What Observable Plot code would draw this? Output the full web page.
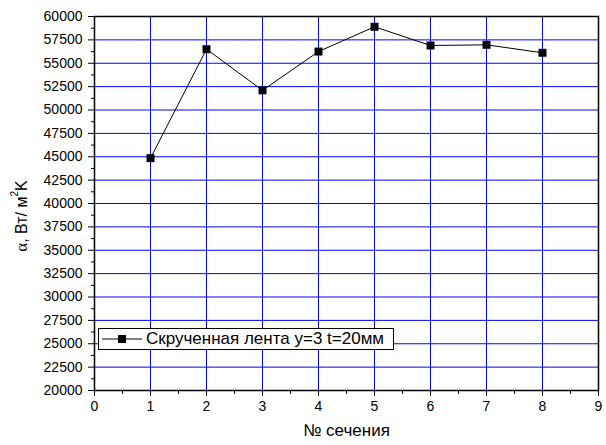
<!DOCTYPE html>
<html>
<head>
<meta charset="utf-8">
<script src="https://cdn.jsdelivr.net/npm/d3@7"></script>
<script src="https://cdn.jsdelivr.net/npm/@observablehq/plot@0.6"></script>
<style>
  html, body { margin: 0; padding: 0; background: #fff; }
  #wrap { position: relative; width: 606px; height: 445px; font-family: "Liberation Sans", Arial, sans-serif; }
  #legend { position: absolute; left: 98px; top: 328px; width: 296px; height: 22px; border: 1px solid #000; background: #fff;
    box-sizing: border-box; display: flex; align-items: center; font-size: 17px; color: #000; white-space: nowrap; }
  #legend svg { margin-left: 3px; margin-right: 4px; }
  #wrap svg text { font-family: "Liberation Sans", Arial, sans-serif; }
</style>
</head>
<body>
<div id="wrap"><div id="legend"><svg width="40" height="12"><line x1="0" y1="6" x2="40" y2="6" stroke="#000" stroke-width="1"/><rect x="16" y="2" width="8" height="8" fill="#000"/></svg><span>Скрученная лента y=3 t=20мм</span></div></div>
<script>
const sections = [1, 2, 3, 4, 5, 6, 7, 8];
const alpha = [44850, 56500, 52100, 56250, 58900, 56900, 56970, 56120];
const xTicks = [0, 1, 2, 3, 4, 5, 6, 7, 8, 9];
const xMinor = [0.5, 1.5, 2.5, 3.5, 4.5, 5.5, 6.5, 7.5, 8.5];
const yTicks = [20000, 22500, 25000, 27500, 30000, 32500, 35000, 37500, 40000, 42500, 45000, 47500, 50000, 52500, 55000, 57500, 60000];
const yMinor = [21250, 23750, 26250, 28750, 31250, 33750, 36250, 38750, 41250, 43750, 46250, 48750, 51250, 53750, 56250, 58750];
const xLabel = "№ сечения";
const yLabelParts = ["α", ", Вт/ м", "2", "K"];

const data = sections.map((s, i) => ({x: s, y: alpha[i]}));

const chart = Plot.plot({
  width: 606,
  height: 445,
  marginLeft: 94,
  marginRight: 8,
  marginTop: 16,
  marginBottom: 55,
  style: {fontFamily: "'Liberation Sans', Arial, sans-serif", fontSize: "14px", color: "#000", background: "#fff"},
  x: {domain: [0, 9]},
  y: {domain: [20000, 60000]},
  marks: [
    Plot.ruleX(xTicks.slice(1, -1), {stroke: "#0000ff", strokeWidth: 1}),
    Plot.ruleY(yTicks.slice(1, -1), {stroke: "#0000ff", strokeWidth: 1}),
    Plot.frame({stroke: "#000", strokeWidth: 1.5}),
    Plot.axisX({ticks: xTicks, tickSize: 6, tickPadding: 5, tickFormat: d => String(d), label: null, fontSize: 14}),
    Plot.axisX({ticks: xMinor, tickSize: 4, tickFormat: () => "", label: null}),
    Plot.axisY({ticks: yTicks, tickSize: 6, tickPadding: 6, tickFormat: d => String(d), label: null, fontSize: 14}),
    Plot.axisY({ticks: yMinor, tickSize: 3, tickFormat: () => "", label: null}),
    Plot.line(data, {x: "x", y: "y", stroke: "#000", strokeWidth: 1}),
    Plot.dot(data, {x: "x", y: "y", symbol: "square", fill: "#000", stroke: "none", r: 4.5}),
    Plot.text([xLabel], {frameAnchor: "bottom", dy: 45, fontSize: 17, fill: "#000"})
  ]
});

// Y-axis title with serif alpha and superscript 2
const yl = d3.select(chart).append("text")
  .attr("transform", "translate(21,216) rotate(-90)")
  .attr("text-anchor", "middle")
  .attr("dominant-baseline", "central")
  .attr("font-size", 16)
  .attr("fill", "#000");
yl.append("tspan").attr("font-family", "'Liberation Serif', 'DejaVu Serif', serif").attr("font-size", 17).text(yLabelParts[0]);
yl.append("tspan").text(yLabelParts[1]);
yl.append("tspan").attr("font-size", 10).attr("dy", -7).text(yLabelParts[2]);
yl.append("tspan").attr("dy", 7).text(yLabelParts[3]);

const wrap = document.getElementById("wrap");
wrap.insertBefore(chart, wrap.firstChild);
</script>
</body>
</html>
